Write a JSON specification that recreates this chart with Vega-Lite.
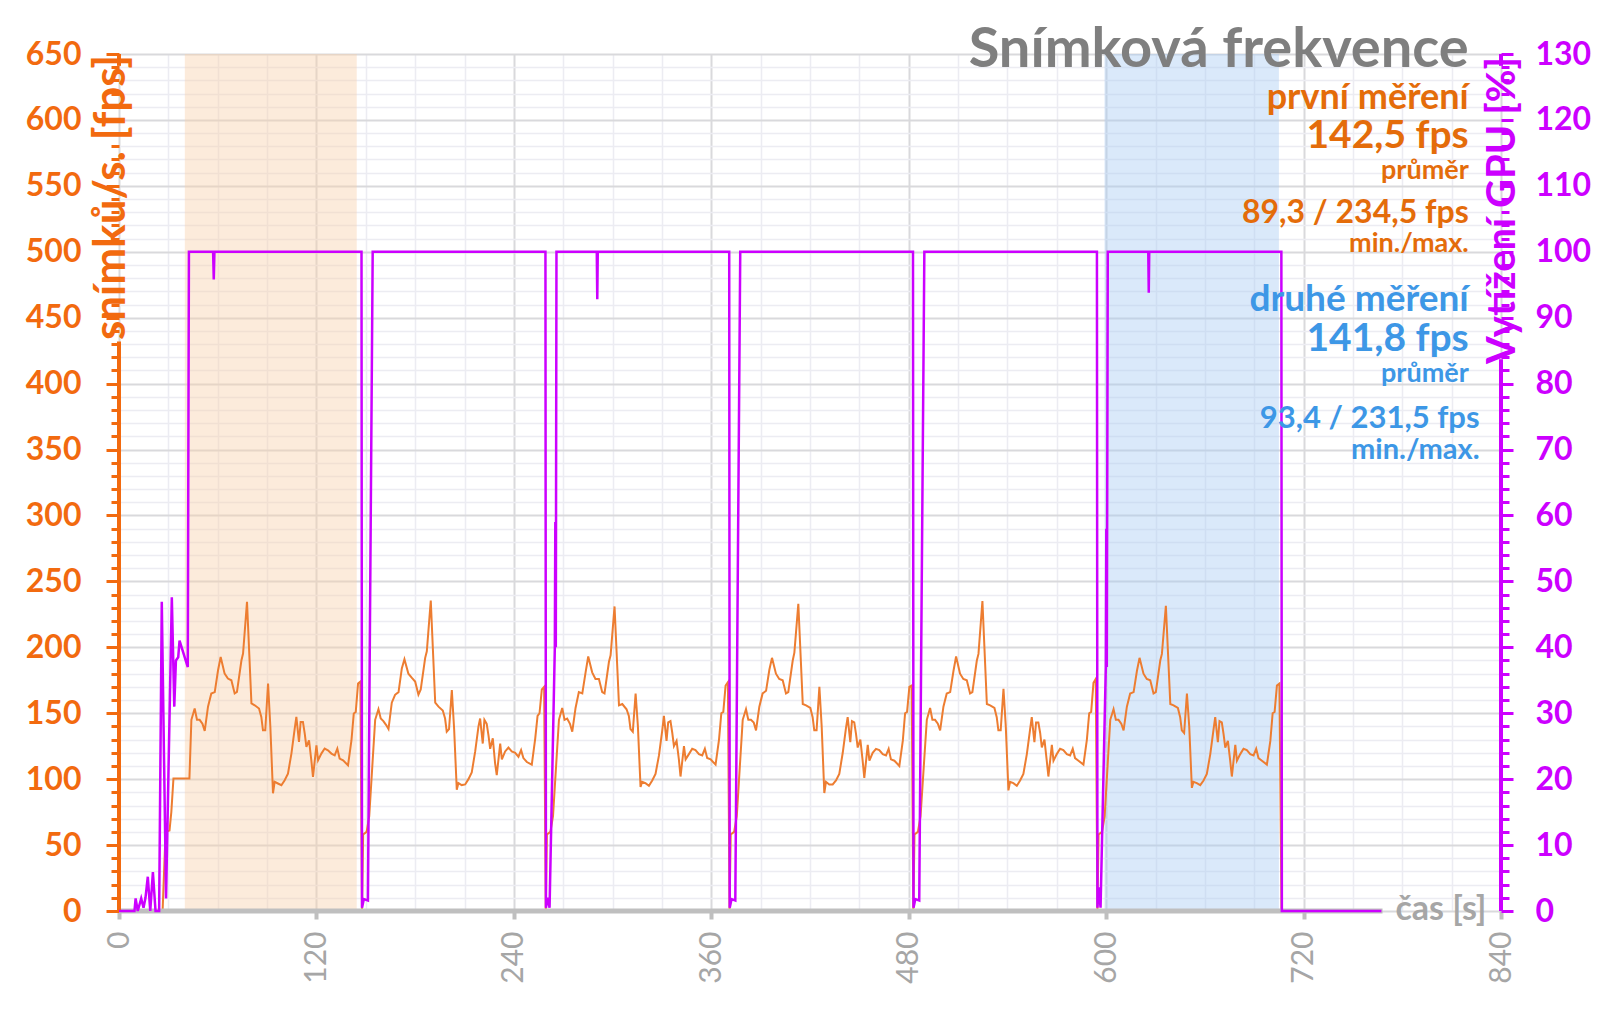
{
"$schema": "https://vega.github.io/schema/vega-lite/v6.json",
"width": 1382, "height": 857,
"autosize": {"type": "none"},
"padding": {"left": 119, "top": 54, "right": 99, "bottom": 98},
"background": "white",
"config": {"font": "Lato", "view": {"stroke": null}, "axis": {"labelFont": "Lato", "titleFont": "Lato"}, "text": {"font": "Lato"}},
"datasets": {
"one": [{}],
"zones": [{"start": 40, "end": 144.5, "zone": "první"}, {"start": 599, "end": 705, "zone": "druhé"}],
"fps": [
{"t":0,"fps":0},{"t":26.5,"fps":0},{"t":28.3,"fps":60},{"t":30.7,"fps":61},{"t":31.8,"fps":75},{"t":33.1,"fps":100.5},{"t":42.8,"fps":100.5},
{"t":44.0,"fps":145},{"t":46.0,"fps":153.6},{"t":47.4,"fps":145},{"t":49.0,"fps":145},{"t":50.7,"fps":142},{"t":52.1,"fps":136.6},{"t":54.1,"fps":155},{"t":56.1,"fps":165},{"t":58.2,"fps":166},{"t":60.2,"fps":182.6},{"t":61.8,"fps":192.7},{"t":64.2,"fps":180},{"t":66.2,"fps":176.3},{"t":68.3,"fps":175},{"t":70.3,"fps":165},{"t":71.7,"fps":166.2},{"t":74.4,"fps":190},{"t":75.4,"fps":195.3},{"t":77.8,"fps":234.5},{"t":80.5,"fps":157.4},{"t":82.5,"fps":156},{"t":85.1,"fps":153.6},{"t":86.5,"fps":147.2},{"t":87.5,"fps":137},{"t":88.9,"fps":137},{"t":90.6,"fps":172.5},{"t":92.0,"fps":139.6},{"t":93.6,"fps":89.3},{"t":94.6,"fps":98},{"t":96.6,"fps":96.7},{"t":98.7,"fps":95.4},{"t":100.7,"fps":99.2},{"t":102.7,"fps":104.2},{"t":104.8,"fps":119.4},{"t":106.8,"fps":138.4},{"t":107.8,"fps":147.2},{"t":109.4,"fps":128.2},{"t":110.4,"fps":143.4},{"t":111.8,"fps":143.4},{"t":112.9,"fps":134.6},{"t":113.9,"fps":124.4},{"t":115.5,"fps":129.5},{"t":116.9,"fps":114.3},{"t":117.9,"fps":101.7},{"t":120.0,"fps":125.7},{"t":121.0,"fps":114.3},{"t":123.0,"fps":119.4},{"t":125.0,"fps":123.2},{"t":127.0,"fps":121.9},{"t":129.1,"fps":119.4},{"t":131.1,"fps":118.1},{"t":132.7,"fps":123.2},{"t":134.1,"fps":115.6},{"t":136.2,"fps":114.3},{"t":139.2,"fps":110.5},{"t":141.3,"fps":129.5},{"t":142.7,"fps":149.8},{"t":143.9,"fps":151},{"t":145.3,"fps":172.5},{"t":146.7,"fps":174},{"t":147.7,"fps":0},{"t":148.4,"fps":58},{"t":150.5,"fps":60},{"t":152.1,"fps":72},
{"t":155.7,"fps":145},{"t":157.7,"fps":153},{"t":159.1,"fps":146},{"t":160.7,"fps":144},{"t":162.4,"fps":141},{"t":163.8,"fps":138},{"t":165.8,"fps":158},{"t":167.8,"fps":164},{"t":169.9,"fps":166},{"t":171.9,"fps":184},{"t":173.5,"fps":191},{"t":175.9,"fps":180},{"t":177.9,"fps":177},{"t":180.0,"fps":174},{"t":182.0,"fps":164},{"t":183.4,"fps":168},{"t":186.1,"fps":192},{"t":187.1,"fps":197},{"t":189.5,"fps":235.5},{"t":192.2,"fps":158},{"t":194.2,"fps":155},{"t":196.8,"fps":152},{"t":198.2,"fps":146},{"t":199.2,"fps":136},{"t":200.6,"fps":138},{"t":202.3,"fps":167.5},{"t":203.7,"fps":138},{"t":205.3,"fps":92},{"t":206.3,"fps":97},{"t":208.3,"fps":95.5},{"t":210.4,"fps":96},{"t":212.4,"fps":100},{"t":214.4,"fps":105},{"t":216.5,"fps":121},{"t":218.5,"fps":140},{"t":219.5,"fps":146},{"t":221.1,"fps":127},{"t":222.1,"fps":145},{"t":223.5,"fps":142},{"t":224.6,"fps":133},{"t":225.6,"fps":123},{"t":227.2,"fps":131},{"t":228.6,"fps":112},{"t":229.6,"fps":103},{"t":231.7,"fps":127},{"t":232.7,"fps":115},{"t":234.7,"fps":121},{"t":236.7,"fps":124},{"t":238.7,"fps":121},{"t":240.8,"fps":120},{"t":242.8,"fps":117},{"t":244.4,"fps":122},{"t":245.8,"fps":116},{"t":247.9,"fps":113},{"t":250.9,"fps":111},{"t":253.0,"fps":131},{"t":254.4,"fps":148},{"t":255.6,"fps":150},{"t":257.0,"fps":168},{"t":258.4,"fps":170},{"t":259.4,"fps":0},{"t":260.1,"fps":58},{"t":262.2,"fps":60},{"t":263.8,"fps":72},
{"t":267.4,"fps":145},{"t":269.4,"fps":154},{"t":270.8,"fps":145},{"t":272.4,"fps":146},{"t":274.1,"fps":142},{"t":275.5,"fps":136},{"t":277.5,"fps":154},{"t":279.5,"fps":166},{"t":281.6,"fps":165},{"t":283.6,"fps":181},{"t":285.2,"fps":193},{"t":287.6,"fps":181},{"t":289.6,"fps":176},{"t":291.7,"fps":176},{"t":293.7,"fps":166},{"t":295.1,"fps":165},{"t":297.8,"fps":189},{"t":298.8,"fps":194},{"t":301.2,"fps":231},{"t":303.9,"fps":156},{"t":305.9,"fps":157},{"t":308.5,"fps":153},{"t":309.9,"fps":148},{"t":310.9,"fps":138},{"t":312.3,"fps":136},{"t":314.0,"fps":165},{"t":315.4,"fps":140},{"t":317.0,"fps":94},{"t":318.0,"fps":98},{"t":320.0,"fps":97},{"t":322.1,"fps":95},{"t":324.1,"fps":99},{"t":326.1,"fps":104},{"t":328.2,"fps":118},{"t":330.2,"fps":137},{"t":331.2,"fps":148},{"t":332.8,"fps":129},{"t":333.8,"fps":143},{"t":335.2,"fps":144},{"t":336.3,"fps":135},{"t":337.3,"fps":125},{"t":338.9,"fps":129},{"t":340.3,"fps":115},{"t":341.3,"fps":102},{"t":343.4,"fps":125},{"t":344.4,"fps":115},{"t":346.4,"fps":119},{"t":348.4,"fps":123},{"t":350.4,"fps":122},{"t":352.5,"fps":119},{"t":354.5,"fps":118},{"t":356.1,"fps":123},{"t":357.5,"fps":116},{"t":359.6,"fps":115},{"t":362.6,"fps":111},{"t":364.7,"fps":130},{"t":366.1,"fps":150},{"t":367.3,"fps":151},{"t":368.7,"fps":171},{"t":370.1,"fps":173.5},{"t":371.1,"fps":0},{"t":371.8,"fps":58},{"t":373.9,"fps":60},{"t":375.5,"fps":72},
{"t":379.1,"fps":145},{"t":381.1,"fps":153},{"t":382.5,"fps":145},{"t":384.1,"fps":145},{"t":385.8,"fps":143},{"t":387.2,"fps":137},{"t":389.2,"fps":155},{"t":391.2,"fps":165},{"t":393.3,"fps":167},{"t":395.3,"fps":183},{"t":396.9,"fps":192},{"t":399.3,"fps":180},{"t":401.3,"fps":176},{"t":403.4,"fps":175},{"t":405.4,"fps":165},{"t":406.8,"fps":166},{"t":409.5,"fps":190},{"t":410.5,"fps":196},{"t":412.9,"fps":233},{"t":415.6,"fps":157},{"t":417.6,"fps":156},{"t":420.2,"fps":154},{"t":421.6,"fps":147},{"t":422.6,"fps":137},{"t":424.0,"fps":137},{"t":425.7,"fps":170},{"t":427.1,"fps":140},{"t":428.7,"fps":89.5},{"t":429.7,"fps":98},{"t":431.7,"fps":96},{"t":433.8,"fps":96},{"t":435.8,"fps":99},{"t":437.8,"fps":104},{"t":439.9,"fps":120},{"t":441.9,"fps":139},{"t":442.9,"fps":147},{"t":444.5,"fps":128},{"t":445.5,"fps":144},{"t":446.9,"fps":143},{"t":448.0,"fps":134},{"t":449.0,"fps":124},{"t":450.6,"fps":130},{"t":452.0,"fps":114},{"t":453.0,"fps":101},{"t":455.1,"fps":126},{"t":456.1,"fps":114},{"t":458.1,"fps":120},{"t":460.1,"fps":123},{"t":462.1,"fps":122},{"t":464.2,"fps":119},{"t":466.2,"fps":118},{"t":467.8,"fps":123},{"t":469.2,"fps":115},{"t":471.3,"fps":114},{"t":474.3,"fps":110},{"t":476.4,"fps":129},{"t":477.8,"fps":150},{"t":479.0,"fps":151},{"t":480.4,"fps":170},{"t":481.8,"fps":171},{"t":482.8,"fps":0},{"t":483.5,"fps":58},{"t":485.6,"fps":60},{"t":487.2,"fps":72},
{"t":491.0,"fps":145},{"t":493.0,"fps":154},{"t":494.4,"fps":145},{"t":496.0,"fps":145},{"t":497.7,"fps":142},{"t":499.1,"fps":137},{"t":501.1,"fps":155},{"t":503.1,"fps":165},{"t":505.2,"fps":166},{"t":507.2,"fps":182},{"t":508.8,"fps":193},{"t":511.2,"fps":180},{"t":513.2,"fps":176},{"t":515.3,"fps":175},{"t":517.3,"fps":165},{"t":518.7,"fps":166},{"t":521.4,"fps":190},{"t":522.4,"fps":195},{"t":524.8,"fps":235},{"t":527.5,"fps":157},{"t":529.5,"fps":156},{"t":532.1,"fps":154},{"t":533.5,"fps":147},{"t":534.5,"fps":137},{"t":535.9,"fps":137},{"t":537.6,"fps":168.5},{"t":539.0,"fps":140},{"t":540.6,"fps":91.5},{"t":541.6,"fps":98},{"t":543.6,"fps":97},{"t":545.7,"fps":95},{"t":547.7,"fps":99},{"t":549.7,"fps":104},{"t":551.8,"fps":119},{"t":553.8,"fps":138},{"t":554.8,"fps":147},{"t":556.4,"fps":128},{"t":557.4,"fps":143},{"t":558.8,"fps":143},{"t":559.9,"fps":135},{"t":560.9,"fps":124},{"t":562.5,"fps":130},{"t":563.9,"fps":114},{"t":564.9,"fps":102},{"t":567.0,"fps":126},{"t":568.0,"fps":114},{"t":570.0,"fps":119},{"t":572.0,"fps":123},{"t":574.0,"fps":122},{"t":576.1,"fps":119},{"t":578.1,"fps":118},{"t":579.7,"fps":123},{"t":581.1,"fps":116},{"t":583.2,"fps":114},{"t":586.2,"fps":111},{"t":588.3,"fps":130},{"t":589.7,"fps":150},{"t":590.9,"fps":151},{"t":592.3,"fps":173},{"t":593.7,"fps":176},{"t":594.7,"fps":0},{"t":595.4,"fps":58},{"t":597.5,"fps":60},{"t":599.1,"fps":72},
{"t":602.5,"fps":145},{"t":604.5,"fps":153},{"t":605.9,"fps":145},{"t":607.5,"fps":145},{"t":609.2,"fps":142},{"t":610.6,"fps":137},{"t":612.6,"fps":155},{"t":614.6,"fps":165},{"t":616.7,"fps":166},{"t":618.7,"fps":182},{"t":620.3,"fps":192},{"t":622.7,"fps":180},{"t":624.7,"fps":176},{"t":626.8,"fps":175},{"t":628.8,"fps":165},{"t":630.2,"fps":166},{"t":632.9,"fps":190},{"t":633.9,"fps":195},{"t":636.3,"fps":231.5},{"t":639.0,"fps":157},{"t":641.0,"fps":156},{"t":643.6,"fps":154},{"t":645.0,"fps":147},{"t":646.0,"fps":137},{"t":647.4,"fps":135},{"t":649.1,"fps":165},{"t":650.5,"fps":140},{"t":652.1,"fps":93.4},{"t":653.1,"fps":98},{"t":655.1,"fps":97},{"t":657.2,"fps":95.5},{"t":659.2,"fps":99},{"t":661.2,"fps":104},{"t":663.3,"fps":119},{"t":665.3,"fps":138},{"t":666.3,"fps":147},{"t":667.9,"fps":128},{"t":668.9,"fps":144},{"t":670.3,"fps":143},{"t":671.4,"fps":134},{"t":672.4,"fps":124},{"t":674.0,"fps":129},{"t":675.4,"fps":114},{"t":676.4,"fps":102},{"t":678.5,"fps":126},{"t":679.5,"fps":114},{"t":681.5,"fps":119},{"t":683.5,"fps":123},{"t":685.5,"fps":122},{"t":687.6,"fps":119},{"t":689.6,"fps":118},{"t":691.2,"fps":123},{"t":692.6,"fps":116},{"t":694.7,"fps":114},{"t":697.7,"fps":111},{"t":699.8,"fps":129},{"t":701.2,"fps":150},{"t":702.4,"fps":151},{"t":703.8,"fps":171},{"t":705.3,"fps":172.5},{"t":706.6,"fps":0},{"t":707.5,"fps":0}
],
"gpu": [
{"t":0,"gpu":0},{"t":9.4,"gpu":0},{"t":10.1,"gpu":1.9},{"t":11.4,"gpu":0},{"t":13.5,"gpu":1.9},{"t":14.9,"gpu":0.5},{"t":16.1,"gpu":2},{"t":17.5,"gpu":5.2},{"t":19.0,"gpu":0},{"t":20.6,"gpu":5.9},{"t":22.2,"gpu":0},{"t":24.4,"gpu":0},{"t":26.0,"gpu":46.9},{"t":28.6,"gpu":1.9},{"t":32.1,"gpu":47.6},{"t":33.6,"gpu":31},{"t":34.6,"gpu":38},{"t":36.0,"gpu":38.5},{"t":36.8,"gpu":41},{"t":41.8,"gpu":37},{"t":42.5,"gpu":100},
{"t":57.2,"gpu":100},{"t":57.6,"gpu":95.8},{"t":58.0,"gpu":100},
{"t":147.4,"gpu":100},{"t":147.7,"gpu":0.5},{"t":148.8,"gpu":1.8},{"t":151.3,"gpu":1.6},{"t":154.2,"gpu":100},
{"t":259.2,"gpu":100},{"t":259.5,"gpu":0.5},{"t":260.5,"gpu":2},{"t":261.7,"gpu":0.5},{"t":264.9,"gpu":40},{"t":265.2,"gpu":59},{"t":265.5,"gpu":40},{"t":265.9,"gpu":100},
{"t":290.4,"gpu":100},{"t":290.7,"gpu":92.8},{"t":291.0,"gpu":100},
{"t":370.9,"gpu":100},{"t":371.2,"gpu":0.5},{"t":372.3,"gpu":1.8},{"t":374.6,"gpu":1.6},{"t":377.6,"gpu":100},
{"t":482.6,"gpu":100},{"t":482.9,"gpu":0.5},{"t":484.0,"gpu":1.8},{"t":486.4,"gpu":1.6},{"t":489.5,"gpu":100},
{"t":594.4,"gpu":100},{"t":594.7,"gpu":0.5},{"t":595.5,"gpu":3.6},{"t":596.6,"gpu":0.5},{"t":599.8,"gpu":37},{"t":600.1,"gpu":58},{"t":600.4,"gpu":37},{"t":601.0,"gpu":100},
{"t":625.6,"gpu":100},{"t":625.9,"gpu":93.8},{"t":626.2,"gpu":100},
{"t":706.5,"gpu":100},{"t":706.8,"gpu":0},{"t":767.3,"gpu":0}
]
},
"layer": [
 {"data": {"name": "zones"},
  "mark": {"type": "rect", "opacity": 0.42},
  "encoding": {
   "x": {"field": "start", "type": "quantitative", "scale": {"domain": [0, 840], "nice": false}},
   "x2": {"field": "end"},
   "y": {"datum": 0, "scale": {"domain": [0, 650], "nice": false}, "axis": null}, "y2": {"datum": 650},
   "color": {"field": "zone", "type": "nominal", "scale": {"domain": ["první", "druhé"], "range": ["#F9CFAA", "#A6CBF2"]}, "legend": null}
  }},
 {"data": {"name": "fps"},
  "mark": {"type": "line", "color": "#ED7D31", "strokeWidth": 2, "interpolate": "linear"},
  "encoding": {
   "x": {"field": "t", "type": "quantitative", "scale": {"domain": [0, 840], "nice": false},
    "axis": {"values": [0,15,30,45,60,75,90,105,120,135,150,165,180,195,210,225,240,255,270,285,300,315,330,345,360,375,390,405,420,435,450,465,480,495,510,525,540,555,570,585,600,615,630,645,660,675,690,705,720,735,750,765,780,795,810,825,840],
     "labelExpr": "datum.value % 120 === 0 ? datum.label : ''",
     "labelOverlap": false, "labelBound": false, "labelFlush": false,
     "labelAngle": 270, "labelAlign": "right", "labelBaseline": "middle",
     "labelFontSize": 30, "labelFontWeight": "normal", "labelColor": "#A6A6A6", "labelPadding": 12,
     "tickSize": 8, "tickWidth": 4,
     "tickColor": {"condition": {"test": "datum.value % 120 === 0", "value": "#BFBFBF"}, "value": "rgba(0,0,0,0)"},
     "domain": false, "grid": true,
     "gridColor": {"condition": {"test": "datum.value % 120 === 0", "value": "#D9D9DC"}, "value": "#ECECF2"},
     "gridWidth": {"condition": {"test": "datum.value % 120 === 0", "value": 2}, "value": 1.5},
     "title": "čas [s]", "titleX": 1367, "titleY": 8, "titleAlign": "right", "titleBaseline": "alphabetic",
     "titleFontSize": 34, "titleFontWeight": "bold", "titleColor": "#A6A6A6"}},
   "y": {"field": "fps", "type": "quantitative", "scale": {"domain": [0, 650], "nice": false},
    "axis": {"orient": "left",
     "values": [0,10,20,30,40,50,60,70,80,90,100,110,120,130,140,150,160,170,180,190,200,210,220,230,240,250,260,270,280,290,300,310,320,330,340,350,360,370,380,390,400,410,420,430,440,450,460,470,480,490,500,510,520,530,540,550,560,570,580,590,600,610,620,630,640,650],
     "labelExpr": "datum.value % 50 === 0 ? datum.label : ''",
     "labelOverlap": false, "labelBound": false, "labelFlush": false,
     "labelFontSize": 32, "labelFontWeight": "bold", "labelColor": "#F26A0F", "labelPadding": 25,
     "tickColor": "#F26A0F",
     "tickSize": {"condition": {"test": "datum.value % 50 === 0", "value": 13}, "value": 8},
     "tickWidth": 3,
     "domain": false, "grid": false,
     "title": "snímků/s. [fps]", "titleAngle": 270, "titleX": -8, "titleY": 143,
     "titleAlign": "center", "titleBaseline": "middle",
     "titleFontSize": 44, "titleFontWeight": "bold", "titleColor": "#F26A0F"}}
  }},
 {"data": {"name": "one"},
  "mark": {"type": "rule", "color": "#BFBFBF", "strokeWidth": 5},
  "encoding": {"x": {"datum": 0}, "x2": {"datum": 768}, "y": {"datum": 0, "scale": {"domain": [0, 650], "nice": false}, "axis": null}}},
 {"data": {"name": "one"},
  "mark": {"type": "rule", "color": "#F26A0F", "strokeWidth": 4},
  "encoding": {"x": {"datum": 0}, "y": {"datum": 0, "scale": {"domain": [0, 650], "nice": false}, "axis": null}, "y2": {"datum": 432}}},
 {"data": {"name": "one"},
  "mark": {"type": "rule", "color": "#F26A0F", "strokeWidth": 4},
  "encoding": {"x": {"datum": 0}, "y": {"datum": 641, "scale": {"domain": [0, 650], "nice": false}, "axis": null}, "y2": {"datum": 650}}},
 {"data": {"name": "gpu"},
  "mark": {"type": "line", "color": "#CC00FF", "strokeWidth": 2.5, "interpolate": "linear"},
  "encoding": {
   "x": {"field": "t", "type": "quantitative", "scale": {"domain": [0, 840], "nice": false}},
   "y": {"field": "gpu", "type": "quantitative", "scale": {"domain": [0, 130], "nice": false},
    "axis": {"orient": "right",
     "values": [0,2,4,6,8,10,12,14,16,18,20,22,24,26,28,30,32,34,36,38,40,42,44,46,48,50,52,54,56,58,60,62,64,66,68,70,72,74,76,78,80,82,84,86,88,90,92,94,96,98,100,102,104,106,108,110,112,114,116,118,120,122,124,126,128,130],
     "labelExpr": "datum.value % 10 === 0 ? datum.label : ''",
     "labelOverlap": false, "labelBound": false, "labelFlush": false,
     "labelFontSize": 32, "labelFontWeight": "bold", "labelColor": "#CC00FF", "labelPadding": 22,
     "tickColor": "#CC00FF",
     "tickSize": {"condition": {"test": "datum.value % 10 === 0", "value": 12}, "value": 8},
     "tickWidth": 3,
     "domain": false, "grid": true,
     "gridColor": {"condition": {"test": "datum.value % 10 === 0", "value": "#D9D9DC"}, "value": "#ECECF2"},
     "gridWidth": {"condition": {"test": "datum.value % 10 === 0", "value": 2}, "value": 1.5},
     "title": "Vytížení GPU [%]", "titleAngle": 270, "titleX": 1, "titleY": 156,
     "titleAlign": "center", "titleBaseline": "middle",
     "titleFontSize": 40, "titleFontWeight": "bold", "titleColor": "#CC00FF"}}
  }},
 {"data": {"name": "one"},
  "mark": {"type": "rule", "color": "#CC00FF", "strokeWidth": 4},
  "encoding": {"x": {"datum": 840}, "y": {"datum": 0, "scale": {"domain": [0, 130], "nice": false}, "axis": null}, "y2": {"datum": 83.7}}},
 {"data": {"name": "one"},
  "mark": {"type": "rule", "color": "#CC00FF", "strokeWidth": 4},
  "encoding": {"x": {"datum": 840}, "y": {"datum": 128.2, "scale": {"domain": [0, 130], "nice": false}, "axis": null}, "y2": {"datum": 130}}},
 {"data": {"name": "one"},
  "mark": {"type": "text", "align": "right", "baseline": "alphabetic", "fontSize": 56, "fontWeight": "bold", "color": "#7F7F7F"},
  "encoding": {"x": {"datum": 820.4}, "y": {"datum": 128.1, "scale": {"domain": [0, 130], "nice": false}, "axis": null}, "text": {"value": "Snímková frekvence"}}},
 {"data": {"name": "one"},
  "mark": {"type": "text", "align": "right", "baseline": "alphabetic", "fontSize": 36, "fontWeight": "bold", "color": "#E46C0A"},
  "encoding": {"x": {"datum": 820.4}, "y": {"datum": 121.6, "scale": {"domain": [0, 130], "nice": false}, "axis": null}, "text": {"value": "první měření"}}},
 {"data": {"name": "one"},
  "mark": {"type": "text", "align": "right", "baseline": "alphabetic", "fontSize": 39, "fontWeight": "bold", "color": "#E46C0A"},
  "encoding": {"x": {"datum": 820.4}, "y": {"datum": 115.8, "scale": {"domain": [0, 130], "nice": false}, "axis": null}, "text": {"value": "142,5 fps"}}},
 {"data": {"name": "one"},
  "mark": {"type": "text", "align": "right", "baseline": "alphabetic", "fontSize": 27, "fontWeight": "bold", "color": "#E46C0A"},
  "encoding": {"x": {"datum": 820.4}, "y": {"datum": 111.0, "scale": {"domain": [0, 130], "nice": false}, "axis": null}, "text": {"value": "průměr"}}},
 {"data": {"name": "one"},
  "mark": {"type": "text", "align": "right", "baseline": "alphabetic", "fontSize": 32, "fontWeight": "bold", "color": "#E46C0A"},
  "encoding": {"x": {"datum": 820.4}, "y": {"datum": 104.4, "scale": {"domain": [0, 130], "nice": false}, "axis": null}, "text": {"value": "89,3 / 234,5 fps"}}},
 {"data": {"name": "one"},
  "mark": {"type": "text", "align": "right", "baseline": "alphabetic", "fontSize": 27, "fontWeight": "bold", "color": "#E46C0A"},
  "encoding": {"x": {"datum": 820.4}, "y": {"datum": 99.9, "scale": {"domain": [0, 130], "nice": false}, "axis": null}, "text": {"value": "min./max."}}},
 {"data": {"name": "one"},
  "mark": {"type": "text", "align": "right", "baseline": "alphabetic", "fontSize": 37, "fontWeight": "bold", "color": "#3D97E6"},
  "encoding": {"x": {"datum": 820.4}, "y": {"datum": 91.0, "scale": {"domain": [0, 130], "nice": false}, "axis": null}, "text": {"value": "druhé měření"}}},
 {"data": {"name": "one"},
  "mark": {"type": "text", "align": "right", "baseline": "alphabetic", "fontSize": 39, "fontWeight": "bold", "color": "#3D97E6"},
  "encoding": {"x": {"datum": 820.4}, "y": {"datum": 85.0, "scale": {"domain": [0, 130], "nice": false}, "axis": null}, "text": {"value": "141,8 fps"}}},
 {"data": {"name": "one"},
  "mark": {"type": "text", "align": "right", "baseline": "alphabetic", "fontSize": 27, "fontWeight": "bold", "color": "#3D97E6"},
  "encoding": {"x": {"datum": 820.4}, "y": {"datum": 80.3, "scale": {"domain": [0, 130], "nice": false}, "axis": null}, "text": {"value": "průměr"}}},
 {"data": {"name": "one"},
  "mark": {"type": "text", "align": "right", "baseline": "alphabetic", "fontSize": 31, "fontWeight": "bold", "color": "#3D97E6"},
  "encoding": {"x": {"datum": 827}, "y": {"datum": 73.2, "scale": {"domain": [0, 130], "nice": false}, "axis": null}, "text": {"value": "93,4 / 231,5 fps"}}},
 {"data": {"name": "one"},
  "mark": {"type": "text", "align": "right", "baseline": "alphabetic", "fontSize": 29, "fontWeight": "bold", "color": "#3D97E6"},
  "encoding": {"x": {"datum": 827}, "y": {"datum": 68.6, "scale": {"domain": [0, 130], "nice": false}, "axis": null}, "text": {"value": "min./max."}}}
],
"resolve": {"scale": {"y": "independent"}}
}
